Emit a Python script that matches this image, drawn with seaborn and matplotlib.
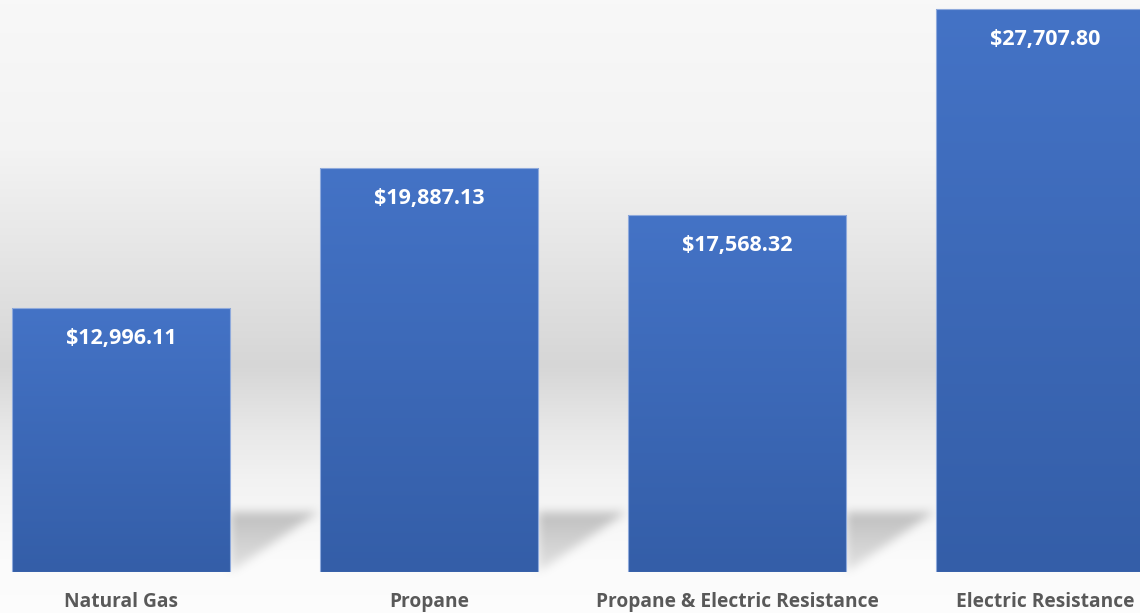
import numpy as np
import pandas as pd
import matplotlib
matplotlib.use("Agg")
import matplotlib.pyplot as plt
import matplotlib.transforms as mtransforms
import seaborn as sns

# data
categories = ["Natural Gas", "Propane", "Propane & Electric Resistance", "Electric Resistance"]
costs = [12996.11, 19887.13, 17568.32, 27707.80]

W, H = 1140, 613
df = pd.DataFrame({"category": categories, "cost": costs})

sns.set_theme(style="white")
plt.rcParams["font.family"] = ["Open Sans", "DejaVu Sans"]

fig = plt.figure(figsize=(W / 100, H / 100), dpi=100)

# background gradient (light at top, grey band in the middle, white at the bottom)
bg_ax = fig.add_axes([0, 0, 1, 1], zorder=0)
bg_ax.set_axis_off()
stops_y = [0, 150, 250, 365, 430, 480, 560, 613]
stops_v = [0.973, 0.953, 0.902, 0.84, 0.91, 0.95, 0.985, 0.99]
rows = np.interp(np.arange(H), stops_y, stops_v)
bg = np.repeat(rows[:, None], W, axis=1)
bg_rgb = np.dstack([bg, bg, bg])

# main axes
ax = fig.add_axes([0, 41 / H, 1, 572 / H], zorder=1)
ax.patch.set_alpha(0)
sns.barplot(data=df, x="category", y="cost", ax=ax, width=0.708,
            color="#4472C4", saturation=1)
ax.set_xlim(-0.393, 3.308)
ax.set_ylim(0, 28160)
ax.set_axis_off()

def shifted(px):
    # data transform moved down by px pixels
    return ax.transData + mtransforms.ScaledTranslation(0, -px / 100, fig.dpi_scale_trans)

# gradient fill for each bar + value labels
grad = np.linspace(0, 1, 256)[:, None]
top_c = np.array([68, 115, 198]) / 255
bot_c = np.array([52, 94, 168]) / 255
bar_img = top_c[None, None, :] * (1 - grad[..., None]) + bot_c[None, None, :] * grad[..., None]
shadow = np.zeros((H, W))
for patch, val in zip(ax.patches, costs):
    x0, w, h = patch.get_x(), patch.get_width(), patch.get_height()
    im = ax.imshow(bar_img, extent=[x0, x0 + w, 0, h], aspect="auto", zorder=2)
    im.set_clip_path(patch)
    patch.set_facecolor("none")
    patch.set_edgecolor("#8faadc")
    patch.set_linewidth(0.8)
    patch.set_zorder(3)
    ax.text(x0 + w / 2, h, f"${val:,.2f}", ha="center", va="baseline", color="white",
            fontsize=15.5, fontweight="bold", zorder=4, transform=shifted(36))
    # perspective shadow to the right of the bar foot (pixel space)
    xr, yb = ax.transData.transform((x0 + w, 0))
    xr = int(round(xr))
    yb = int(round(H - yb))
    for hh in range(0, 61):
        y = yb - hh
        span = int(88 * hh / 60)
        xa, xb = max(xr, 0), min(xr + span, W)
        if xb > xa and 0 <= y < H:
            shadow[y, xa:xb] = 0.22 * (0.45 + 0.55 * hh / 60)

# simple box blur of the shadow mask
k = 11
kern = np.ones(k) / k
for _ in range(2):
    shadow = np.apply_along_axis(lambda r: np.convolve(r, kern, mode="same"), 1, shadow)
    shadow = np.apply_along_axis(lambda c: np.convolve(c, kern, mode="same"), 0, shadow)
bg_rgb = bg_rgb * (1 - shadow[..., None])
bg_ax.imshow(bg_rgb, extent=[0, W, H, 0], aspect="auto")
bg_ax.set_xlim(0, W)
bg_ax.set_ylim(H, 0)

# category labels under the bars
for i, cat in enumerate(categories):
    ax.text(i, 0, cat, ha="center", va="baseline", color="#595959", fontsize=13.8,
            fontweight="bold", zorder=4, clip_on=False, transform=shifted(35))

fig.savefig("out.png", dpi=100)
